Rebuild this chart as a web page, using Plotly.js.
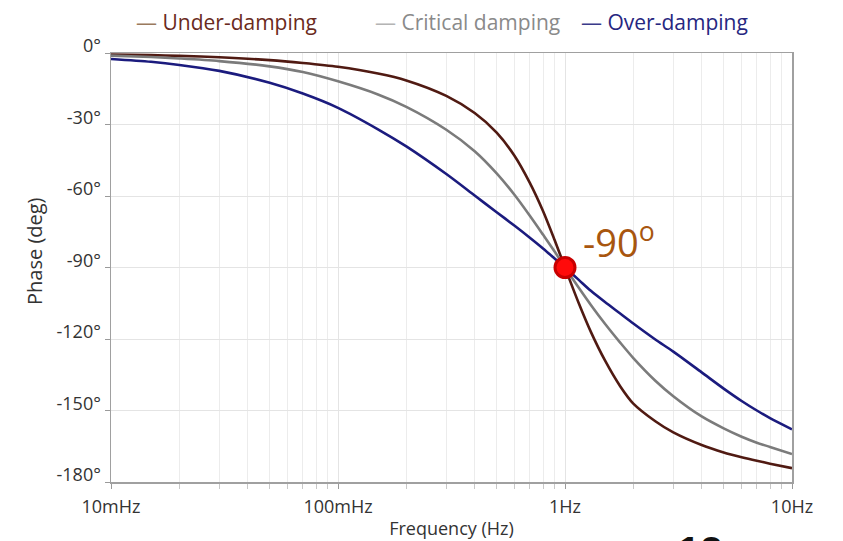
<!DOCTYPE html>
<html>
<head>
<meta charset="utf-8">
<script src="https://cdn.plot.ly/plotly-3.0.1.min.js"></script>
<style>html,body{margin:0;padding:0;background:#fff;}#chart{width:843px;height:541px;}</style>
</head>
<body>
<div id="chart"></div>
<script>
// Frequency samples (Hz)
const freq = [0.01, 0.015, 0.02, 0.03, 0.05, 0.07, 0.1, 0.15, 0.2, 0.3, 0.4, 0.5, 0.6, 0.7, 0.8, 0.9, 1, 1.15, 1.3, 1.5, 1.75, 2, 2.5, 3, 4, 5, 6, 7, 8, 10];
// Phase (deg)
const underDamping = [-0.6, -0.9, -1.2, -1.8, -3.0, -4.2, -5.8, -8.6, -11.5, -18.0, -25.2, -33.4, -43.2, -54.5, -66.3, -78.5, -90, -105, -117, -129, -139.8, -147.1, -154.5, -159.2, -164.5, -167.6, -169.6, -171.1, -172.3, -174.2];
const criticalDamping = [-1.1, -1.7, -2.3, -3.4, -5.6, -8.0, -11.9, -17.4, -22.6, -32.2, -41.2, -50.5, -59.6, -68.3, -76.2, -83.3, -90, -98.5, -105.7, -113.6, -121.5, -128.0, -137.5, -144.0, -152.5, -157.5, -161.0, -163.5, -165.3, -168.3];
const overDamping = [-2.5, -3.7, -5.0, -7.5, -12.5, -17.0, -23.0, -32.0, -39.2, -50.8, -59.8, -66.8, -72.5, -77.5, -82.0, -86.2, -90, -95.2, -99.8, -104.5, -109.3, -113.5, -120.2, -125.3, -134.0, -140.8, -146.0, -150.0, -153.2, -157.9];
// Marked point
const markFreq = [1];
const markPhase = [-90];
// Tick labels
const xTickVals = [0.01, 0.1, 1, 10];
const xTickText = ['10mHz', '100mHz', '1Hz', '10Hz'];
const xMinorVals = [0.02,0.03,0.04,0.05,0.06,0.07,0.08,0.09,0.2,0.3,0.4,0.5,0.6,0.7,0.8,0.9,2,3,4,5,6,7,8,9];
const yTickVals = [0, -30, -60, -90, -120, -150, -180];
const yTickText = ['0°', '-30°', '-60°', '-90°', '-120°', '-150°', '-180°'];
const seriesNames = ['Under-damping', 'Critical damping', 'Over-damping'];
const seriesColors = ['#501a12', '#7b7b7b', '#1b1b7e'];
const legendTextColors = ['#6a2a20', '#8a8a8a', '#262680'];
const legendDashColors = ['#9a7a5e', '#b4b4b4', '#3a3a8a'];

const FONT = '"Open Sans", "Noto Sans", sans-serif';
const series = [underDamping, criticalDamping, overDamping];
const traces = series.map((ys, i) => ({
  x: freq, y: ys, type: 'scatter', mode: 'lines', name: seriesNames[i], showlegend: false,
  line: {color: seriesColors[i], width: 2.6, shape: 'spline', smoothing: 0.8},
  hoverinfo: 'skip'
}));
traces.push({
  x: markFreq, y: markPhase, type: 'scatter', mode: 'markers', showlegend: false,
  marker: {size: 20, color: '#ff0a0a', line: {color: '#c80000', width: 3}}
});

// legend drawn as text entries above the plot
const legendX = [0.0338, 0.3847, 0.6872];
const legendAnn = seriesNames.map((n, i) => ({
  x: legendX[i], y: 1.073, xref: 'paper', yref: 'paper', xanchor: 'left', yanchor: 'middle', showarrow: false,
  text: '<span style="color:' + legendDashColors[i] + '">—</span> <span style="color:' + legendTextColors[i] + '">' + n + '</span>',
  font: {family: FONT, size: 21, color: legendTextColors[i]}
}));

const layout = {
  width: 843, height: 541,
  margin: {l: 111, r: 51, t: 53, b: 59, autoexpand: false},
  paper_bgcolor: '#fff', plot_bgcolor: '#fff',
  font: {family: FONT, color: '#333', size: 18},
  showlegend: false,
  xaxis: {
    type: 'log', range: [-2, 1],
    tickmode: 'array', tickvals: xTickVals, ticktext: xTickText,
    ticks: 'outside', ticklen: 5, tickcolor: '#9a9a9a',
    showgrid: true, gridcolor: '#e4e4e4', gridwidth: 1,
    minor: {tickmode: 'array', tickvals: xMinorVals, ticks: 'outside', ticklen: 5, tickcolor: '#c8c8c8', showgrid: true, gridcolor: '#ececec', gridwidth: 1},
    showline: true, linecolor: '#a0a0a0', linewidth: 1.5, mirror: true,
    zeroline: false, ticklabelstandoff: 3,
    tickfont: {family: FONT, size: 18, color: '#333'},
    title: {text: 'Frequency (Hz)', font: {family: FONT, size: 18, color: '#333'}, standoff: 5}
  },
  yaxis: {
    range: [-180, 0],
    tickmode: 'array', tickvals: yTickVals, ticktext: yTickText,
    ticks: 'outside', ticklen: 5, tickcolor: '#9a9a9a',
    showgrid: true, gridcolor: '#e4e4e4', gridwidth: 1,
    showline: true, linecolor: '#a0a0a0', linewidth: 1.5, mirror: true,
    zeroline: false, ticklabelshift: -7,
    tickfont: {family: FONT, size: 18, color: '#333'}
  },
  annotations: legendAnn.concat([
    {x: -0.1116, y: 0.5385, xref: 'paper', yref: 'paper', xanchor: 'center', yanchor: 'middle', textangle: -90,
     showarrow: false, text: 'Phase (deg)', font: {family: FONT, size: 20, color: '#333'}},
    {x: Math.log10(markFreq[0]) + 0.07, y: markPhase[0], xref: 'x', yref: 'y', xanchor: 'left', yanchor: 'bottom',
     yshift: -2, showarrow: false, text: '-90<sup>o</sup>',
     font: {family: FONT, size: 38, color: '#a8560f'}},
    {x: 0.865, y: -0.104, xref: 'paper', yref: 'paper', xanchor: 'center', yanchor: 'top', showarrow: false,
     text: '<b>12</b>', font: {family: '"Liberation Sans", Arial, sans-serif', size: 40, color: '#111'}}
  ])
};

Plotly.newPlot('chart', traces, layout, {displayModeBar: false, staticPlot: true});
</script>
</body>
</html>
